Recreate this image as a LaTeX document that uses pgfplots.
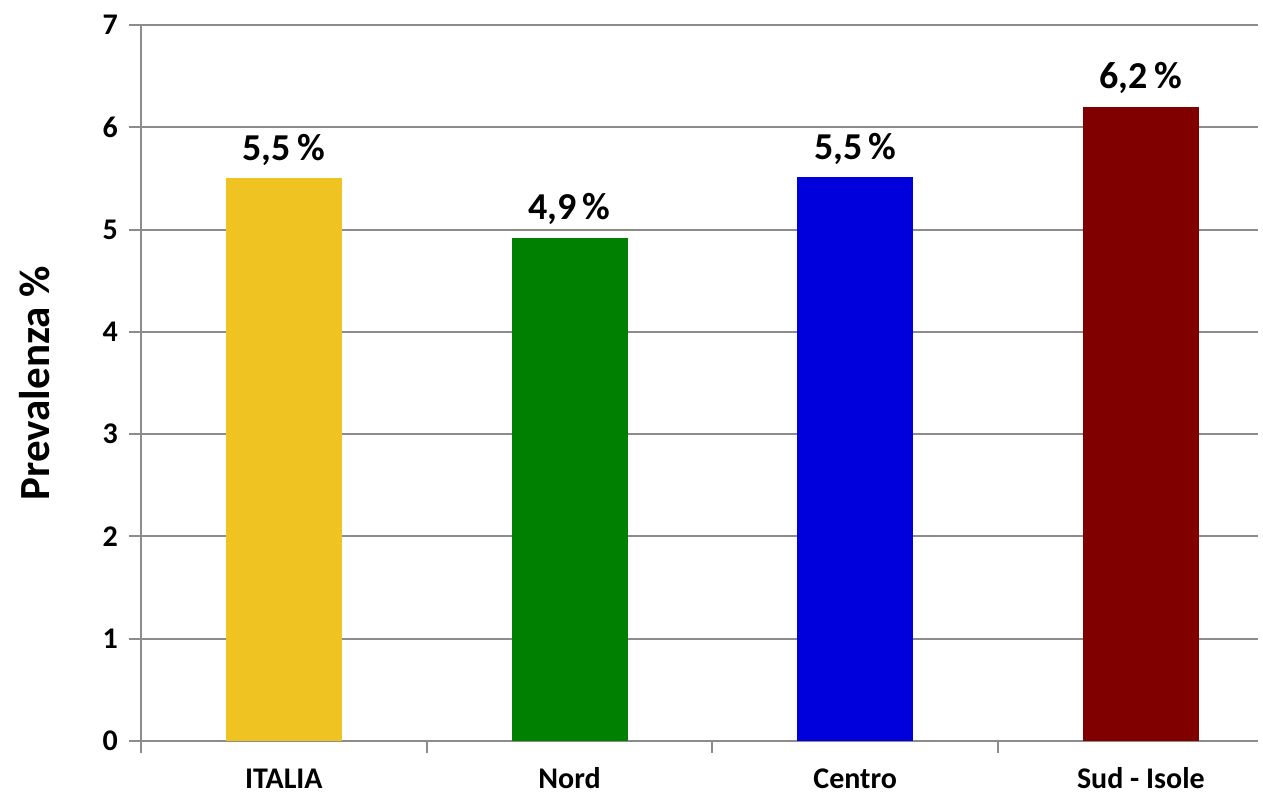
\documentclass[border=0pt]{standalone}
\usepackage{pgfplots}
\pgfplotsset{compat=1.18}
\usepackage{fontspec}
\setmainfont{Carlito}
\definecolor{cyel}{HTML}{EEC322}
\definecolor{cgrn}{HTML}{008000}
\definecolor{cblu}{HTML}{0000DD}
\definecolor{cred}{HTML}{800000}
\definecolor{cgrid}{HTML}{8C8C8C}
\begin{document}
\begin{tikzpicture}
\begin{axis}[
  scale only axis,
  width=558.5pt, height=358pt,
  xmin=-0.5, xmax=3.41,
  ymin=0, ymax=7,
  ytick={0,1,...,7},
  xtick={-0.5,0.5,1.5,2.5},
  xticklabels={},
  extra x ticks={0,1,2,3},
  extra x tick labels={ITALIA,Nord,Centro,Sud - Isole},
  extra x tick style={major tick length=0pt, tick style={draw=none}, grid=none},
  axis x line*=bottom,
  axis y line*=left,
  axis line style={cgrid, line width=1pt, -},
  ymajorgrids,
  major grid style={cgrid, line width=1pt},
  tick align=outside,
  tick style={draw=cgrid, line width=1pt},
  major tick length=6pt,
  /pgf/number format/assume math mode=true,
  yticklabel style={font=\fontsize{15}{18}\selectfont\bfseries, xshift=-2pt},
  xticklabel style={font=\fontsize{15}{18}\selectfont\bfseries, text height=10pt, text depth=0pt, yshift=-10pt},
  ylabel={Prevalenza \%},
  every axis y label/.style={at={(axis description cs:-0.0949,0.5)}, anchor=center, rotate=90, font=\fontsize{21.5}{25}\selectfont\bfseries},
  bar width=58pt,
  nodes near coords={\pgfmathprintnumber[use comma,fixed,precision=1,fixed zerofill]{\pgfplotspointmeta}\,\%},
  every node near coord/.append style={font=\fontsize{19}{22}\selectfont\bfseries, text=black, yshift=3pt},
  clip=false,
]
\addplot[ybar, fill=cyel, draw=none, bar shift=0pt] coordinates {(0,5.5)};
\addplot[ybar, fill=cgrn, draw=none, bar shift=0pt] coordinates {(1,4.92)};
\addplot[ybar, fill=cblu, draw=none, bar shift=0pt] coordinates {(2,5.51)};
\addplot[ybar, fill=cred, draw=none, bar shift=0pt] coordinates {(3,6.2)};
\end{axis}
\pgfresetboundingbox
\path (-70.5pt,-27pt) rectangle (561pt,370.5pt);
\end{tikzpicture}
\end{document}
